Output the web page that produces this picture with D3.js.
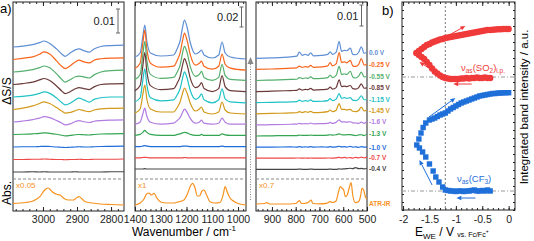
<!DOCTYPE html>
<html>
<head>
<meta charset="utf-8">
<script src="https://cdn.jsdelivr.net/npm/d3@7"></script>
<style>
  body { margin: 0; background: #fff; }
  svg { font-family: "Liberation Sans", Arial, sans-serif; }
  .tick line { stroke: #222; }
  .tick text { fill: #222; }
</style>
</head>
<body>
<div class="chart"></div>
<script>
//----- data -----
// electrode potentials of the stacked spectra (top to bottom)
var potentials = ["0.0 V", "-0.25 V", "-0.55 V", "-0.85 V", "-1.15 V", "-1.45 V", "-1.6 V", "-1.3 V", "-1.0 V", "-0.7 V", "-0.4 V"];

// C-H region, wavenumbers (cm-1) and dS/S in units of 1e-3
var wnCH = [3088, 3060, 3030, 3010, 2997, 2980, 2960, 2945, 2935, 2920, 2905, 2894, 2880, 2864, 2850, 2830, 2800, 2762];
var dssCH = [
  [0, 0.4, 1.0, 1.8, 2.5, 1.5, -0.8, -2.9, -3.9, -2.5, -1.2, -0.8, -1.5, -2.1, -0.8, 0.2, 0.6, 0.8],
  [0, 0.5, 1.1, 2.2, 3.2, 2.3, -0.6, -2.8, -3.8, -2.6, -1.0, -0.3, -1.0, -1.4, -0.3, 0.3, 0.6, 0.7],
  [0, 0.4, 1.0, 1.8, 2.5, 1.8, -0.8, -3.0, -4.2, -3.2, -2.0, -1.7, -2.0, -2.5, -1.2, 0, 0.6, 0.8],
  [0, 0.4, 1.0, 1.9, 2.5, 1.7, -0.6, -2.7, -3.8, -3.0, -1.8, -1.3, -1.7, -2.1, -1.0, 0, 0.3, 0.4],
  [0, 0.3, 0.8, 1.5, 2.1, 1.5, -0.4, -2.3, -3.3, -2.6, -1.2, -0.5, -1.2, -2.1, -1.0, -0.3, 0, 0],
  [0, 0.6, 1.5, 2.5, 3.2, 2.5, 0.8, -0.6, -1.5, -1.2, -0.5, 0, -0.5, -0.9, -0.2, 0.3, 0.5, 0.6],
  [0, 0.4, 1.0, 1.6, 2.2, 1.8, 0.6, -0.4, -1.2, -0.8, 0.2, 0.6, 0.1, -0.2, 0.3, 0.6, 0.8, 0.9],
  [0, 0.1, 0.3, 0.5, 0.7, 0.5, 0.1, -0.3, -0.6, -0.4, -0.1, 0, -0.1, -0.2, 0, 0.2, 0.3, 0.4],
  [0, 0.1, 0.1, 0.2, 0.3, 0.2, 0, -0.1, -0.2, -0.1, 0, 0.1, 0, 0, 0.1, 0.2, 0.3, 0.4],
  [0, 0, 0.1, 0.1, 0.2, 0.1, 0, 0, -0.1, 0, 0, 0.1, 0, 0, 0.1, 0.1, 0.1, 0.2],
  [0, 0, 0.1, 0, 0.1, 0, 0, 0, 0, 0, 0.1, 0, 0, 0, 0, 0, 0.1, 0.1]
];

// SO2 / CF3 region
var wnSO = [1400, 1380, 1370, 1362, 1354, 1340, 1300, 1250, 1235, 1225, 1215, 1208, 1198, 1185, 1165, 1150, 1142, 1132, 1100, 1075, 1062, 1050, 1030, 969];
var dssSO = [
  [0, 4, 20, 32, 16, 4, 1, 2, 9, 16, 30, 37, 30, 14, 3, 5, 7, 2, -1, 2, 15, 4, 0, -2],
  [0, 5, 24, 38, 19, 5, 1, 2, 8.5, 15, 28, 35, 28, 13, 3, 5, 7, 2, -1, 2, 14, 4, 0, -2],
  [0, 5, 24, 38, 19, 5, 1, 2, 8, 14, 27, 33, 27, 12.5, 3, 5, 8, 2, -1, 2, 15, 4, 0, -1],
  [0, 5, 24, 38, 19, 5, 1, 2, 8, 14, 26, 32, 26, 12, 3, 5, 8, 2, -1, 2, 15, 4, 0, -1],
  [0, 4, 21, 33, 17, 4, 1, 2, 7.5, 13, 24, 30, 24, 11, 2.5, 5, 8, 2, -1, 2, 13, 3, 0, -1],
  [0, 4, 18, 28, 14, 4, 1, 1, 6, 11, 20, 25, 20, 9.5, 2, 4, 6, 1, -1, 1, 11, 3, 0, -1],
  [0, 2, 10, 16, 8, 2, 0, 1, 4, 6.5, 12, 15, 12, 5.5, 1, 2, 4, 1, 0, 1, 6, 2, 0, 0],
  [0, 1, 3, 5, 3, 1, 0, 0, 1, 1.5, 2.5, 3, 2.5, 1, 0, 0, 1, 0, 0, 0, 1.5, 0.5, 0, 0],
  [0, 0, 0.5, 1, 0.5, 0, 0, 0, 0, 0, 0.5, 0.5, 0.5, 0, 0, 0, 0, 0, 0, 0, 0.5, 0, 0, 0],
  [0, 0, 0.3, 0.5, 0.3, 0, 0, 0, 0, 0, 0, 0.3, 0, 0, 0, 0, 0, 0, 0, 0, 0, 0, 0, 0],
  [0, 0, 0, 0.3, 0, 0, 0, 0, 0, 0, 0, 0, 0, 0, 0, 0, 0, 0, 0, 0, 0, 0, 0, 0]
];

// low-wavenumber region
var wnLow = [967, 900, 820, 795, 785, 772, 760, 748, 737, 725, 690, 665, 655, 645, 630, 617, 607, 595, 585, 570, 560, 548, 535, 524, 512, 500];
var dssLow = [
  [0, 0.2, 0.7, 1.0, 2.9, 1.4, 1.9, 1.4, 2.6, 1.2, 1.4, 1.9, 3.1, 1.9, 2.9, 7.9, 3.3, 3.8, 3.6, 4.8, 1.9, 1.7, 2.9, 5.5, 2.4, 2.9],
  [0, 0.2, 0.6, 0.7, 1.6, 1.0, 1.3, 1.1, 1.9, 1.0, 1.2, 1.7, 3.2, 1.7, 2.6, 8.0, 3.3, 3.6, 3.1, 4.3, 1.7, 1.4, 2.4, 5.1, 2.1, 2.4],
  [0, 0.2, 0.5, 0.6, 1.4, 0.9, 1.2, 1.0, 1.7, 0.9, 1.0, 1.4, 2.6, 1.4, 2.4, 6.7, 2.9, 3.1, 2.9, 4.4, 1.7, 1.2, 2.1, 4.0, 1.7, 1.9],
  [0, 0.2, 0.5, 0.6, 1.3, 0.7, 1.1, 0.9, 1.5, 0.7, 0.9, 1.2, 2.1, 1.2, 1.9, 5.6, 2.4, 2.6, 2.4, 2.9, 1.4, 1.2, 1.9, 3.7, 1.6, 1.8],
  [0, 0.2, 0.4, 0.5, 1.2, 0.6, 1.0, 0.7, 1.3, 0.6, 0.7, 1.0, 1.9, 1.0, 1.7, 4.3, 2.1, 2.4, 2.1, 2.4, 1.2, 1.0, 1.7, 3.3, 1.4, 1.4],
  [0, 0.2, 0.4, 0.5, 1.0, 0.6, 1.0, 0.7, 1.2, 0.6, 0.7, 1.0, 1.8, 1.0, 1.7, 4.8, 2.1, 2.1, 1.9, 2.1, 1.2, 1.0, 1.6, 3.2, 1.4, 1.8],
  [0, 0.1, 0.3, 0.4, 0.7, 0.5, 0.6, 0.5, 0.9, 0.5, 0.6, 0.7, 1.2, 0.7, 1.2, 2.4, 1.4, 1.4, 1.3, 1.5, 1.0, 0.9, 0.7, 1.3, 0.7, 1.8],
  [0, 0.1, 0.2, 0.2, 0.4, 0.3, 0.3, 0.3, 0.4, 0.3, 0.3, 0.4, 0.6, 0.4, 0.6, 1.0, 0.6, 0.5, 0.6, 0.7, 0.4, 0.2, 0.5, 0.6, 0.2, 1.0],
  [0, 0, 0.1, 0, 0.2, 0, 0.1, 0, 0.2, 0, 0.1, 0, 0.2, 0, 0.1, 0.4, 0.1, 0.2, 0, 0.3, 0, 0.1, -0.1, 0.2, 0, 0],
  [0, 0, 0, 0.1, 0.1, 0, 0.1, 0, 0.1, 0, 0, 0.1, 0.1, 0, 0.2, 0.4, 0.1, 0.4, 0.1, 0.3, 0, 0.4, 0.2, 0.5, 0.2, 0.5],
  [0, 0, 0, 0, 0.1, 0, 0, 0, 0.1, 0, 0, 0, 0.1, 0, 0, 0.2, 0.1, 0.2, 0.3, 0.5, 0.3, 0.8, 0.3, 0.4, 0.2, 0.5]
];

// ATR-IR reference spectra (absorbance, a.u.), already multiplied by the factors
var atrWnCH = [3088, 3050, 3029, 3009, 2995, 2985, 2972, 2960, 2950, 2940, 2926, 2910, 2900, 2894, 2885, 2876, 2855, 2832, 2800, 2762];
var atrCH = [0.017, 0.025, 0.04, 0.083, 0.15, 0.17, 0.13, 0.107, 0.10, 0.07, 0.05, 0.05, 0.075, 0.083, 0.06, 0.033, 0.02, 0.01, 0.005, 0];
var atrWnSO = [1400, 1380, 1365, 1355, 1346, 1336, 1326, 1315, 1300, 1277, 1250, 1235, 1225, 1210, 1195, 1185, 1176, 1168, 1158, 1150, 1140, 1132, 1122, 1109, 1090, 1070, 1058, 1050, 1042, 1031, 1015, 1005, 969];
var atrSO = [0, 0.02, 0.06, 0.11, 0.12, 0.10, 0.117, 0.07, 0.03, 0.02, 0.02, 0.03, 0.035, 0.05, 0.12, 0.19, 0.217, 0.18, 0.09, 0.09, 0.14, 0.15, 0.10, 0.033, 0.02, 0.025, 0.10, 0.183, 0.13, 0.07, 0.035, 0.02, 0];
var atrWnLow = [967, 930, 922, 910, 850, 800, 790, 784, 776, 760, 745, 735, 728, 700, 670, 655, 645, 630, 620, 612, 604, 598, 591, 583, 575, 567, 560, 549, 535, 527, 521, 514, 507, 500];
var atrLow = [0.01, 0.015, 0.023, 0.01, 0.01, 0.015, 0.035, 0.043, 0.015, 0.017, 0.03, 0.05, 0.015, 0.012, 0.017, 0.033, 0.025, 0.04, 0.13, 0.183, 0.165, 0.15, 0.083, 0.10, 0.17, 0.223, 0.10, 0.023, 0.035, 0.09, 0.167, 0.15, 0.083, 0.06];
var atrFactors = ["x0.05", "x1", "x0.7"];

// panel b: integrated band intensity vs potential
var redV = [-0.35, -0.4, -0.45, -0.5, -0.55, -0.6, -0.65, -0.7, -0.75, -0.8, -0.85, -0.9, -0.95, -1.0, -1.05, -1.1, -1.15, -1.2, -1.25, -1.3, -1.35, -1.4, -1.45, -1.5, -1.55, -1.6, -1.65, -1.7, -1.75,
  -1.7, -1.65, -1.6, -1.55, -1.5, -1.45, -1.4, -1.35, -1.3, -1.25, -1.2, -1.15, -1.1, -1.05, -1.0, -0.95, -0.9, -0.85, -0.8, -0.75, -0.7, -0.65, -0.6, -0.55, -0.5, -0.45, -0.4, -0.35, -0.3, -0.25, -0.2, -0.15, -0.1, -0.05, 0];
var redI = [66, 66, 66.25, 66, 66, 66.25, 66, 66, 65.75, 66, 65.75, 65.75, 65.5, 65.5, 65.5, 65.5, 65.75, 66, 66.5, 67.25, 68.25, 69.25, 70.75, 72.5, 74, 75.5, 76.5, 77.5, 78.5,
  79.5, 80.5, 81.5, 82.5, 83, 83.75, 84.25, 84.75, 85.25, 85.5, 86, 86.25, 86.5, 86.75, 87, 87.25, 87.5, 87.75, 88, 88.25, 88.5, 88.75, 89, 89.25, 89.5, 89.75, 90, 90, 90.1, 90.25, 90.35, 90.4, 90.5, 90.5, 90.5];
var blueV = [-0.35, -0.4, -0.45, -0.5, -0.55, -0.6, -0.65, -0.7, -0.75, -0.8, -0.85, -0.9, -0.95, -1.0, -1.05, -1.1, -1.15,
  -1.2, -1.25, -1.32, -1.38, -1.43, -1.5, -1.57, -1.63, -1.69, -1.74,
  -1.7, -1.66, -1.62, -1.57,
  -1.5, -1.45, -1.4, -1.35, -1.3, -1.25, -1.2, -1.15, -1.1, -1.05, -1.0, -0.95, -0.9, -0.85, -0.8, -0.75, -0.7, -0.65, -0.6, -0.55, -0.5, -0.45, -0.4, -0.35, -0.3, -0.25, -0.2, -0.15, -0.1, -0.05, 0];
var blueI = [9.5, 10, 9.5, 9.75, 9.5, 9.5, 10, 9.75, 9.5, 9.5, 9.25, 9.5, 9.5, 9.25, 9.5, 9.5, 9.75,
  10, 11.5, 14, 16.5, 19.5, 23, 26.5, 29, 31, 32.5,
  35.5, 38.5, 41.25, 43.5,
  45, 45.5, 46, 46.75, 47.5, 48, 48.5, 49.5, 50.5, 51.25, 52, 52.75, 53.5, 54, 54.5, 55, 55.5, 56, 56.5, 57, 57.25, 57.5, 57.75, 58, 58.25, 58.25, 58.5, 58.5, 58.6, 58.65, 58.65];
var baseLevels = [66.5, 9.5];   // starting intensities (dash-dot lines)
var crossV = -1.2;              // potential of the vertical dashed line

//----- styling -----
var traceColors = ["#5f8fd5", "#f8661c", "#55b06e", "#6b3a3a", "#1fc2c5", "#d39a1b", "#b27ce0", "#33a553", "#1f6cdb", "#ee4848", "#474747"];
var atrColor = "#f7921e";
var redColor = "#f03a3a", blueColor = "#1f6fd9";

var svg = d3.select(".chart").append("svg")
  .attr("width", 534).attr("height", 241);

var frameTop = 2, frameBottom = 211;

// three spectral windows of panel a
var panels = [
  {x0: 13, x1: 124, domain: [3088, 2762], major: [3000, 2900, 2800], wn: wnCH, traces: dssCH,
   atrWn: atrWnCH, atr: atrCH, px10: 24, top: 47, step: 12.5, bar: 10, barX: 118, barTop: 9, barText: "0.01"},
  {x0: 135, x1: 246, domain: [1400, 969], major: [1400, 1300, 1200, 1100, 1000], wn: wnSO, traces: dssSO,
   atrWn: atrWnSO, atr: atrSO, px10: 10, top: 57, step: 11.2, bar: 20, barX: 241.5, barTop: 7, barText: "0.02"},
  {x0: 256, x1: 367, domain: [967, 500], major: [900, 800, 700, 600, 500], wn: wnLow, traces: dssLow,
   atrWn: atrWnLow, atr: atrLow, px10: 21, top: 58.3, step: 11.1, bar: 10, barX: 361.5, barTop: 5, barText: "0.01"}
];

var atrY = d3.scaleLinear().domain([0, 0.25]).range([205, 180]);

panels.forEach(function(p, k) {
  var x = d3.scaleLinear().domain(p.domain).range([p.x0, p.x1]);
  var y = d3.scaleLinear().domain([0, 10]).range([0, -p.px10]);
  var g = svg.append("g");

  // ticks bottom (major labelled + minor) and top
  var minor = d3.range(Math.ceil(p.domain[1] / 20) * 20, p.domain[0] + 1, 20);
  g.append("g").attr("transform", "translate(0," + frameBottom + ")")
    .call(d3.axisBottom(x).tickValues(minor).tickSize(-2).tickFormat(""));
  g.append("g").attr("transform", "translate(0," + frameBottom + ")")
    .call(d3.axisBottom(x).tickValues(p.major).tickSize(-4).tickPadding(5).tickFormat(d3.format("d")))
    .selectAll("text").style("font-size", "10.5px");
  g.append("g").attr("transform", "translate(0," + frameTop + ")")
    .call(d3.axisTop(x).tickValues(minor).tickSize(-2).tickFormat(""));
  g.append("g").attr("transform", "translate(0," + frameTop + ")")
    .call(d3.axisTop(x).tickValues(p.major).tickSize(-4).tickFormat(""));
  g.selectAll(".domain").remove();

  // frame
  g.append("rect").attr("x", p.x0).attr("y", frameTop)
    .attr("width", p.x1 - p.x0).attr("height", frameBottom - frameTop)
    .attr("fill", "none").attr("stroke", "#222").attr("stroke-width", 1);

  // stacked difference spectra
  p.traces.forEach(function(vals, i) {
    var base = p.top + i * p.step;
    g.append("path").datum(vals)
      .attr("transform", "translate(0," + base + ")")
      .attr("fill", "none").attr("stroke", traceColors[i]).attr("stroke-width", 1.2)
      .attr("d", d3.line()
        .x(function(d, j) { return x(p.wn[j]); })
        .y(function(d) { return y(d); })
        .curve(d3.curveMonotoneX));
    if (k === 2) {
      svg.append("text")
        .attr("x", p.x1 + 2).attr("y", base + y(vals[vals.length - 1]) + 2.5)
        .attr("fill", traceColors[i]).style("font-size", "6.5px").style("font-weight", "bold")
        .text(potentials[i]);
    }
  });

  // dashed separator
  g.append("line").attr("x1", p.x0).attr("x2", p.x1).attr("y1", 179).attr("y2", 179)
    .attr("stroke", "#8a8a8a").attr("stroke-dasharray", "3,2");

  // ATR-IR
  g.append("path").datum(p.atr)
    .attr("fill", "none").attr("stroke", atrColor).attr("stroke-width", 1.2)
    .attr("d", d3.line()
      .x(function(d, j) { return x(p.atrWn[j]); })
      .y(function(d) { return atrY(d); })
      .curve(d3.curveMonotoneX));
  g.append("text").attr("x", p.x0 + 3).attr("y", 188).attr("fill", atrColor)
    .style("font-size", "8px").text(atrFactors[k]);

  // scale bar
  var barBottom = p.barTop + (y(0) - y(p.bar));
  g.append("path")
    .attr("d", "M" + (p.barX - 2) + "," + p.barTop + "H" + (p.barX + 2) +
      "M" + p.barX + "," + p.barTop + "V" + barBottom +
      "M" + (p.barX - 2) + "," + barBottom + "H" + (p.barX + 2))
    .attr("stroke", "#666").attr("fill", "none");
  g.append("text").attr("x", p.barX - 3).attr("y", (p.barTop + barBottom) / 2 + 4)
    .attr("text-anchor", "end").style("font-size", "11px").attr("fill", "#222")
    .text(p.barText);
});

svg.append("text").attr("x", 369).attr("y", 206).attr("fill", atrColor)
  .style("font-size", "6.5px").style("font-weight", "bold").text("ATR-IR");

// dotted arrow between windows
svg.append("line").attr("x1", 250.5).attr("x2", 250.5).attr("y1", 200).attr("y2", 62)
  .attr("stroke", "#888").attr("stroke-dasharray", "1,1.5");
svg.append("path").attr("d", "M247.5,64 L250.5,57 L253.5,64 Z").attr("fill", "#888");

// axis titles panel a
svg.append("text").attr("x", 0).attr("y", 13).style("font-size", "13px").text("a)");
svg.append("text").attr("transform", "translate(11,91) rotate(-90)")
  .attr("text-anchor", "middle").style("font-size", "12px").text("\u0394S/S");
svg.append("text").attr("transform", "translate(11,193) rotate(-90)")
  .attr("text-anchor", "middle").style("font-size", "12px").text("Abs.");
svg.append("text").attr("x", 184).attr("y", 236).attr("text-anchor", "middle")
  .style("font-size", "12px")
  .call(function(t) {
    t.append("tspan").text("Wavenumber / cm");
    t.append("tspan").attr("dy", -5).style("font-size", "8px").text("-1");
  });

//----- panel b -----
var xB = d3.scaleLinear().domain([-2.02, 0.12]).range([402, 515]);
var yB = d3.scaleLinear().domain([0, 104]).range([210, 2]);
var gb = svg.append("g");

gb.append("g").attr("transform", "translate(0,210)")
  .call(d3.axisBottom(xB).tickValues(d3.range(-2, 0.11, 0.1)).tickSize(-2).tickFormat(""));
gb.append("g").attr("transform", "translate(0,210)")
  .call(d3.axisBottom(xB).tickValues([-2, -1.5, -1, -0.5, 0]).tickSize(-4).tickPadding(6)
    .tickFormat(function(d) { return String(d); }))
  .selectAll("text").style("font-size", "10.5px");
gb.append("g").attr("transform", "translate(0,2)")
  .call(d3.axisTop(xB).tickValues(d3.range(-2, 0.11, 0.1)).tickSize(-2).tickFormat(""));
gb.append("g").attr("transform", "translate(0,2)")
  .call(d3.axisTop(xB).tickValues([-2, -1.5, -1, -0.5, 0]).tickSize(-4).tickFormat(""));
gb.append("g").attr("transform", "translate(402,0)")
  .call(d3.axisLeft(yB).tickValues(d3.range(0, 104, 4)).tickSize(-2).tickFormat(""));
gb.append("g").attr("transform", "translate(515,0)")
  .call(d3.axisRight(yB).tickValues(d3.range(0, 104, 4)).tickSize(-2).tickFormat(""));
gb.selectAll(".domain").remove();
gb.append("rect").attr("x", 402).attr("y", 2).attr("width", 113).attr("height", 208)
  .attr("fill", "none").attr("stroke", "#222");

// reference lines
baseLevels.forEach(function(b) {
  gb.append("line").attr("x1", 402).attr("x2", 515).attr("y1", yB(b)).attr("y2", yB(b))
    .attr("stroke", "#999").attr("stroke-dasharray", "4,2,1,2");
});
gb.append("line").attr("x1", xB(crossV)).attr("x2", xB(crossV)).attr("y1", 2).attr("y2", 210)
  .attr("stroke", "#777").attr("stroke-dasharray", "2,2");

// data points
gb.selectAll("circle.red").data(redV).enter().append("circle")
  .attr("class", "red")
  .attr("cx", function(d) { return xB(d); })
  .attr("cy", function(d, i) { return yB(redI[i]); })
  .attr("r", 3.2).attr("fill", redColor);
gb.selectAll("rect.blue").data(blueV).enter().append("rect")
  .attr("class", "blue")
  .attr("x", function(d) { return xB(d) - 2.7; })
  .attr("y", function(d, i) { return yB(blueI[i]) - 2.7; })
  .attr("width", 5.4).attr("height", 5.4).attr("fill", blueColor);

// scan direction arrows (potential, intensity)
var arrows = [
  {c: redColor, from: [-1.26, 85.5], to: [-0.82, 92]},
  {c: redColor, from: [-1.36, 68.5], to: [-1.69, 74]},
  {c: redColor, from: [-0.70, 63], to: [-1.05, 63]},
  {c: blueColor, from: [-1.51, 46.5], to: [-1.01, 56]},
  {c: blueColor, from: [-1.45, 12.5], to: [-1.69, 25]},
  {c: blueColor, from: [-0.63, 6], to: [-0.99, 6]}
];
arrows.forEach(function(a) {
  var x1 = xB(a.from[0]), y1 = yB(a.from[1]), x2 = xB(a.to[0]), y2 = yB(a.to[1]);
  var ang = Math.atan2(y2 - y1, x2 - x1), L = 5, W = 2.2;
  var bx = x2 - L * Math.cos(ang), by = y2 - L * Math.sin(ang);
  gb.append("line").attr("x1", x1).attr("y1", y1).attr("x2", bx).attr("y2", by)
    .attr("stroke", a.c).attr("stroke-width", 1);
  gb.append("path").attr("fill", a.c)
    .attr("d", "M" + x2 + "," + y2 +
      "L" + (bx + W * Math.sin(ang)) + "," + (by - W * Math.cos(ang)) +
      "L" + (bx - W * Math.sin(ang)) + "," + (by + W * Math.cos(ang)) + "Z");
});

// band labels
gb.append("text").attr("x", 461).attr("y", 70.5).attr("fill", redColor).style("font-size", "9.5px")
  .call(function(t) {
    t.append("tspan").text("\u03BD");
    t.append("tspan").attr("dy", 2).style("font-size", "6.5px").text("as");
    t.append("tspan").attr("dy", -2).text("(SO");
    t.append("tspan").attr("dy", 2).style("font-size", "6.5px").text("2");
    t.append("tspan").attr("dy", -2).text(")");
    t.append("tspan").attr("dy", 2).style("font-size", "6.5px").text("i.p.");
  });
gb.append("text").attr("x", 457).attr("y", 182).attr("fill", blueColor).style("font-size", "9.5px")
  .call(function(t) {
    t.append("tspan").text("\u03BD");
    t.append("tspan").attr("dy", 2).style("font-size", "6.5px").text("as");
    t.append("tspan").attr("dy", -2).text("(CF");
    t.append("tspan").attr("dy", 2).style("font-size", "6.5px").text("3");
    t.append("tspan").attr("dy", -2).text(")");
  });

svg.append("text").attr("x", 382).attr("y", 15).style("font-size", "13px").text("b)");
svg.append("text").attr("x", 415).attr("y", 236).style("font-size", "12px")
  .call(function(t) {
    t.append("tspan").text("E");
    t.append("tspan").attr("dy", 3).style("font-size", "8px").text("WE");
    t.append("tspan").attr("dy", -3).text(" / V ");
    t.append("tspan").attr("dy", 1).style("font-size", "7px").text("vs. Fc/Fc");
    t.append("tspan").attr("dy", -4).style("font-size", "5px").text("+");
  });
svg.append("text").attr("transform", "translate(528,107) rotate(-90)")
  .attr("text-anchor", "middle").style("font-size", "11.5px")
  .text("Integrated band intensity / a.u.");
</script>
</body>
</html>
